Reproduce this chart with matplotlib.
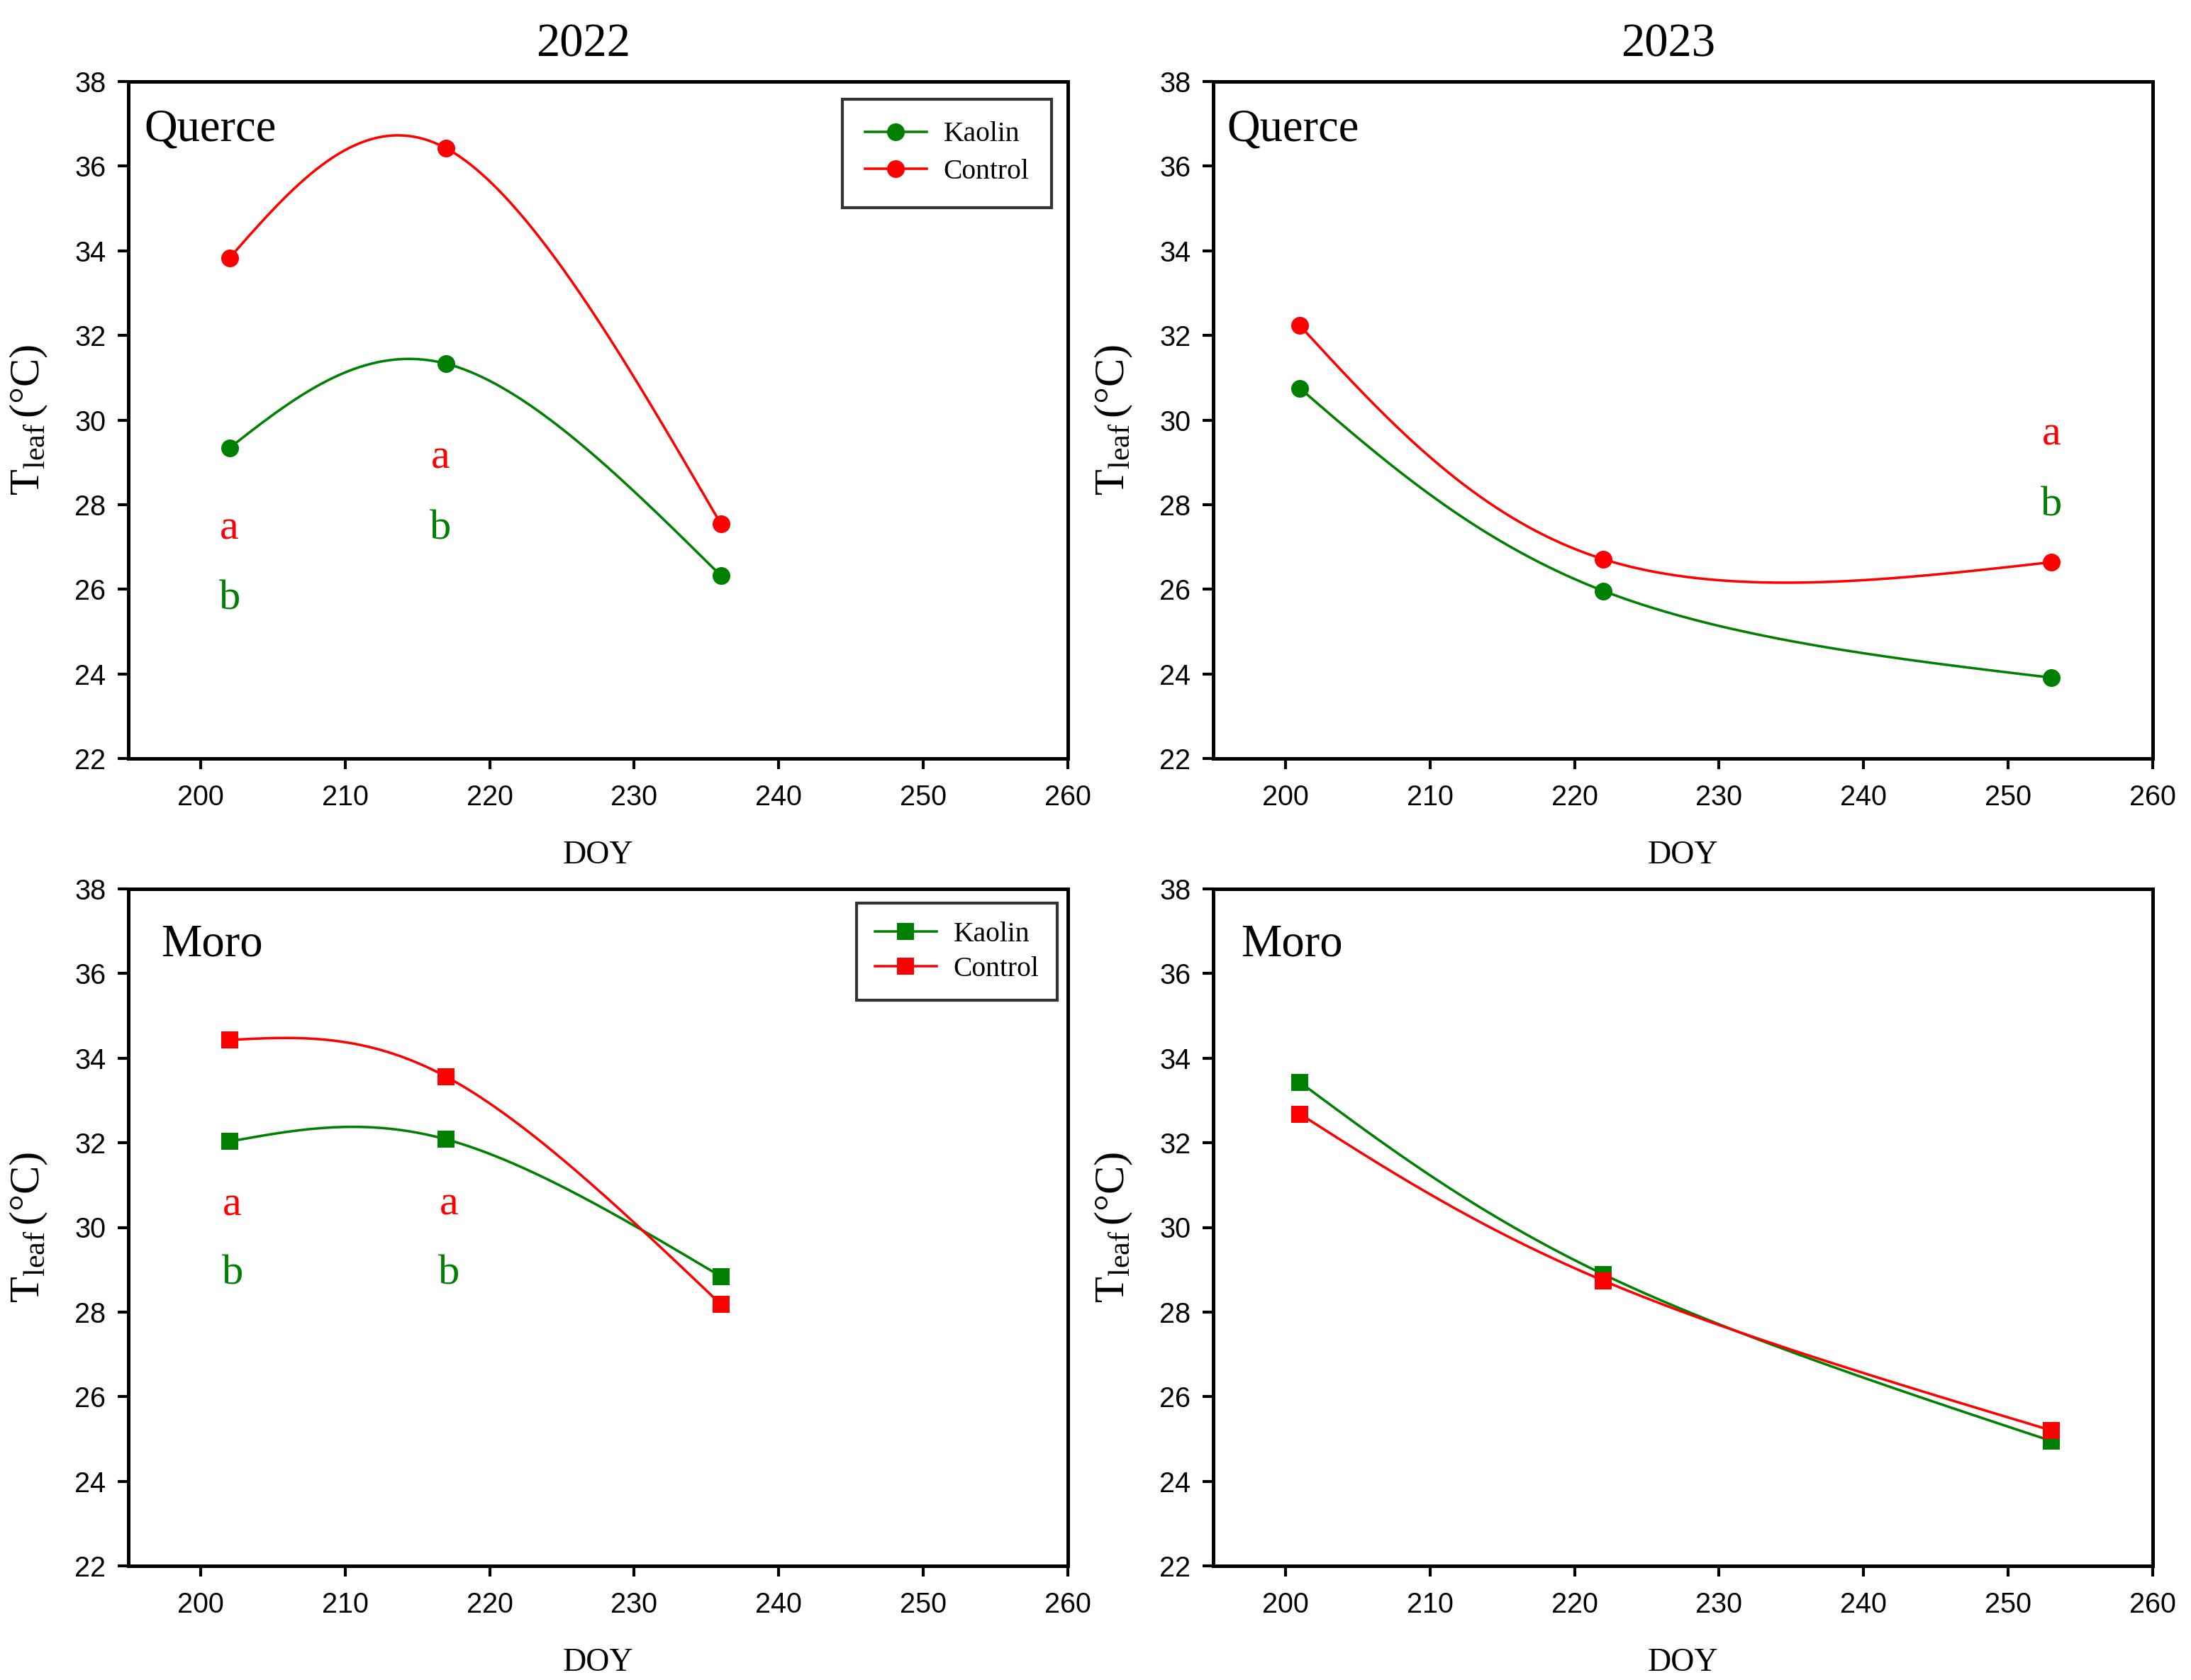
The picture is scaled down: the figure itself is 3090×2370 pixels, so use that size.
import numpy as np
import matplotlib
matplotlib.use("Agg")
import matplotlib.pyplot as plt
from matplotlib.lines import Line2D

plt.rcParams['font.family'] = ['Liberation Serif', 'DejaVu Serif']
plt.rcParams['mathtext.fontset'] = 'custom'
plt.rcParams['mathtext.rm'] = 'Liberation Serif'
plt.rcParams['mathtext.it'] = 'Liberation Serif:italic'

# ---------------- data ----------------
doy_2022 = [202, 217, 236]
doy_2023 = [201, 222, 253]

querce_2022_kaolin = [29.34, 31.33, 26.32]
querce_2022_control = [33.83, 36.42, 27.54]
querce_2023_kaolin = [30.75, 25.96, 23.91]
querce_2023_control = [32.23, 26.71, 26.64]

moro_2022_kaolin = [32.03, 32.08, 28.84]
moro_2022_control = [34.43, 33.56, 28.18]
moro_2023_kaolin = [33.43, 28.89, 24.95]
moro_2023_control = [32.68, 28.74, 25.20]

# significance letters: (x, y baseline, text, series)
letters_querce_2022 = [(202, 27.18, 'a', 'control'), (202, 25.52, 'b', 'kaolin'),
                       (216.6, 28.86, 'a', 'control'), (216.6, 27.18, 'b', 'kaolin')]
letters_querce_2023 = [(253, 29.41, 'a', 'control'), (253, 27.73, 'b', 'kaolin')]
letters_moro_2022 = [(202.2, 30.28, 'a', 'control'), (202.2, 28.66, 'b', 'kaolin'),
                     (217.2, 30.30, 'a', 'control'), (217.2, 28.66, 'b', 'kaolin')]
letters_moro_2023 = []

years = ['2022', '2023']
cultivars = ['Querce', 'Moro']
series_labels = ['Kaolin', 'Control']
xticks = [200, 210, 220, 230, 240, 250, 260]
yticks = [22, 24, 26, 28, 30, 32, 34, 36, 38]

GREEN = '#008000'
RED = '#FF0000'
colors = {'kaolin': GREEN, 'control': RED}


def natural_spline_1d(v, tt):
    """Natural cubic spline with uniform parameter 0..n-1 evaluated at tt."""
    v = np.asarray(v, float)
    n = len(v)
    A = np.zeros((n, n))
    b = np.zeros(n)
    A[0, 0] = 1
    A[-1, -1] = 1
    for i in range(1, n - 1):
        A[i, i - 1] = 1
        A[i, i] = 4
        A[i, i + 1] = 1
        b[i] = 6 * (v[i + 1] - 2 * v[i] + v[i - 1])
    M = np.linalg.solve(A, b)
    out = np.empty_like(tt)
    for k, t in enumerate(tt):
        i = min(int(np.floor(t)), n - 2)
        u = t - i
        s = 1 - u
        out[k] = (M[i] * s ** 3 / 6 + M[i + 1] * u ** 3 / 6
                  + (v[i] - M[i] / 6) * s + (v[i + 1] - M[i + 1] / 6) * u)
    return out


def spline_xy(x, y):
    tt = np.linspace(0, len(x) - 1, 400)
    return natural_spline_1d(x, tt), natural_spline_1d(y, tt)


fig = plt.figure(figsize=(10.3, 7.9), dpi=300)
W, H = 3090, 2370
col_left = [181 / W, 1711 / W]
col_w = 1325 / W
row_bottom = [1 - 1070 / H, 1 - 2209 / H]
row_h = 955 / H

panels = [
    (0, 0, doy_2022, querce_2022_kaolin, querce_2022_control, letters_querce_2022, 'Querce', 'o', True, (0.0166, 0.913)),
    (0, 1, doy_2023, querce_2023_kaolin, querce_2023_control, letters_querce_2023, 'Querce', 'o', False, (0.0144, 0.913)),
    (1, 0, doy_2022, moro_2022_kaolin, moro_2022_control, letters_moro_2022, 'Moro', 's', True, (0.0347, 0.901)),
    (1, 1, doy_2023, moro_2023_kaolin, moro_2023_control, letters_moro_2023, 'Moro', 's', False, (0.0295, 0.901)),
]

for r, c, x, yk, yc, letters, name, mk, show_leg, name_pos in panels:
    ax = fig.add_axes([col_left[c], row_bottom[r], col_w, row_h])
    ms = 6.0 if mk == 'o' else 5.6
    for yv, key in ((yk, 'kaolin'), (yc, 'control')):
        sx, sy = spline_xy(x, yv)
        ax.plot(sx, sy, color=colors[key], lw=0.85, zorder=2)
        ax.plot(x, yv, linestyle='none', marker=mk, ms=ms, color=colors[key],
                markeredgewidth=0, zorder=3)
    for lx, ly, txt, key in letters:
        ax.text(lx, ly, txt, color=colors[key], ha='center', va='baseline', fontsize=14.5)
    ax.text(name_pos[0], name_pos[1], name, transform=ax.transAxes, fontsize=15.5,
            ha='left', va='baseline')
    ax.set_xlim(195, 260)
    ax.set_ylim(22, 38)
    ax.set_xticks(xticks)
    ax.set_yticks(yticks)
    for lab in ax.get_xticklabels() + ax.get_yticklabels():
        lab.set_fontfamily('Liberation Sans')
        lab.set_fontsize(9.5)
    ax.tick_params(direction='out', length=3.6, width=1.0)
    ax.tick_params(axis='x', pad=5)
    ax.tick_params(axis='y', pad=4)
    for sp in ax.spines.values():
        sp.set_linewidth(1.2)
    ax.set_xlabel('DOY', fontsize=11)
    ax.xaxis.set_label_coords(0.5, -0.121)
    ax.set_ylabel(r'T$_{\mathrm{leaf}}\,$(°C)', fontsize=14.5)
    ax.yaxis.set_label_coords(-0.084, 0.5)
    if show_leg:
        handles = [Line2D([], [], color=GREEN, lw=0.85, marker=mk, ms=ms, markeredgewidth=0),
                   Line2D([], [], color=RED, lw=0.85, marker=mk, ms=ms, markeredgewidth=0)]
        if r == 0:
            anchor, bpad, lsp = (0.9826, 0.974), 0.8, 0.4
        else:
            anchor, bpad, lsp = (0.9887, 0.979), 0.65, 0.3
        leg = ax.legend(handles, series_labels, loc='upper right', bbox_to_anchor=anchor,
                        borderaxespad=0, fontsize=9.5, frameon=True, fancybox=False,
                        edgecolor='black', handlelength=2.2, handletextpad=0.6,
                        borderpad=bpad, labelspacing=lsp)
        leg.get_frame().set_linewidth(1.0)

fig.text(823 / W, 1 - 79 / H, years[0], fontsize=16, ha='center', va='baseline')
fig.text(2353 / W, 1 - 79 / H, years[1], fontsize=16, ha='center', va='baseline')

fig.savefig('out.png', dpi=300)
